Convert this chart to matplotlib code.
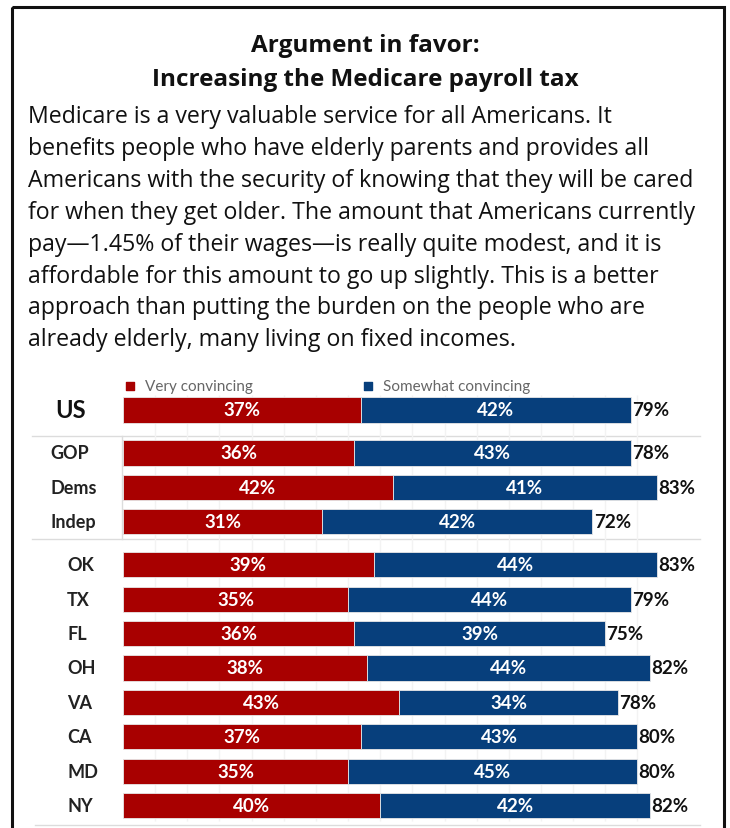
import matplotlib
matplotlib.use("Agg")
import matplotlib.pyplot as plt
import numpy as np
from matplotlib.patches import Rectangle

plt.rcParams['font.family'] = ['Lato', 'DejaVu Sans']

title_lines = ["Argument in favor:", "Increasing the Medicare payroll tax"]
body_lines = [
    "Medicare is a very valuable service for all Americans. It",
    "benefits people who have elderly parents and provides all",
    "Americans with the security of knowing that they will be cared",
    "for when they get older. The amount that Americans currently",
    "pay\u20141.45% of their wages\u2014is really quite modest, and it is",
    "affordable for this amount to go up slightly. This is a better",
    "approach than putting the burden on the people who are",
    "already elderly, many living on fixed incomes.",
]

groups = [["US"], ["GOP", "Dems", "Indep"],
          ["OK", "TX", "FL", "OH", "VA", "CA", "MD", "NY"]]
very = [37, 36, 42, 31, 39, 35, 36, 38, 43, 37, 35, 40]
somewhat = [42, 43, 41, 42, 44, 44, 39, 44, 34, 43, 45, 42]
total = [79, 78, 83, 72, 83, 79, 75, 82, 78, 80, 80, 82]

RED = "#A80000"
BLUE = "#073F7C"
W, H = 730, 829

fig = plt.figure(figsize=(W / 100, H / 100), dpi=100)

# background layer in pixel units: frame, heading, paragraph, rules
bg = fig.add_axes([0, 0, 1, 1])
bg.set_xlim(0, W)
bg.set_ylim(H, 0)
bg.axis("off")
bg.add_patch(Rectangle((12, 8), 712, 900, fill=False, lw=2.2, ec="#111111"))

para_font = ["Open Sans", "DejaVu Sans"]
for i, t in enumerate(title_lines):
    bg.text(W / 2, 52 + 34 * i, t, ha="center", va="baseline", family=para_font,
            fontsize=17.5, fontweight="bold", color="#111111")
for i, t in enumerate(body_lines):
    bg.text(28, 123 + 31.9 * i, t, ha="left", va="baseline", family=para_font,
            fontsize=16.7, color="#111111")

rule = dict(color="#dcdcdc", lw=1)
bg.plot([32, 700], [437, 437], **rule)
bg.plot([32, 700], [540, 540], **rule)
bg.plot([35, 700], [826, 826], **rule)
bg.plot([122, 122], [437, 540], **rule)

# row positions, with a small gap between groups
labels, pos = [], []
y = 0.0
for g in groups:
    for name in g:
        labels.append(name)
        pos.append(y)
        y += 1
    y += 0.25
pos = np.array(pos)
very = np.array(very)
somewhat = np.array(somewhat)

px_per_pct = 6.43
unit = 34.4
top_px = 375
ax = fig.add_axes([123 / W, 0, 85 * px_per_pct / W, (H - top_px) / H])
ax.patch.set_alpha(0)
ax.set_xlim(0, 85)
ax.set_ylim((H - 411) / unit, (top_px - 411) / unit)
ax.axis("off")

ax.vlines(np.arange(5, 85, 5), -0.45, pos[-1] + 0.45, color="#f3f3f3", lw=1, zorder=0)

bh = 0.73
ax.barh(pos, very, height=bh, color=RED, edgecolor="#e8e8e8", lw=0.6, zorder=2)
ax.barh(pos, somewhat, left=very, height=bh, color=BLUE, edgecolor="#e8e8e8", lw=0.6, zorder=2)

for i, name in enumerate(labels):
    fs = 13.5
    ax.text(very[i] / 2, pos[i], f"{very[i]}%", ha="center", va="center",
            color="white", fontsize=fs, fontweight="bold", zorder=3)
    ax.text(very[i] + somewhat[i] / 2, pos[i], f"{somewhat[i]}%", ha="center",
            va="center", color="white", fontsize=fs, fontweight="bold", zorder=3)
    ax.text(very[i] + somewhat[i] + 0.2, pos[i], f"{total[i]}%", ha="left",
            va="center", color="#111111", fontsize=fs, fontweight="bold",
            zorder=3, clip_on=False)
    if name == "US":
        ax.text(-10.6, pos[i], name, ha="left", va="center", fontsize=17,
                fontweight="bold", color="#111111", clip_on=False)
    elif name in groups[1]:
        ax.text(-11.3, pos[i], name, ha="left", va="center", fontsize=13,
                fontweight="bold", color="#222222", clip_on=False)
    else:
        ax.text(-8.7, pos[i], name, ha="left", va="center", fontsize=13,
                fontweight="bold", color="#222222", clip_on=False)

# legend row above the bars
ly = (387 - 411) / unit
for x0, col, txt in [(1.1, RED, "Very convincing"), (38.1, BLUE, "Somewhat convincing")]:
    ax.scatter([x0], [ly], marker="s", s=30, color=col, clip_on=False, zorder=3)
    ax.text(x0 + 2.3, ly, txt, ha="left", va="center", fontsize=11,
            color="#666666", clip_on=False)

fig.savefig("out.png", dpi=100)
